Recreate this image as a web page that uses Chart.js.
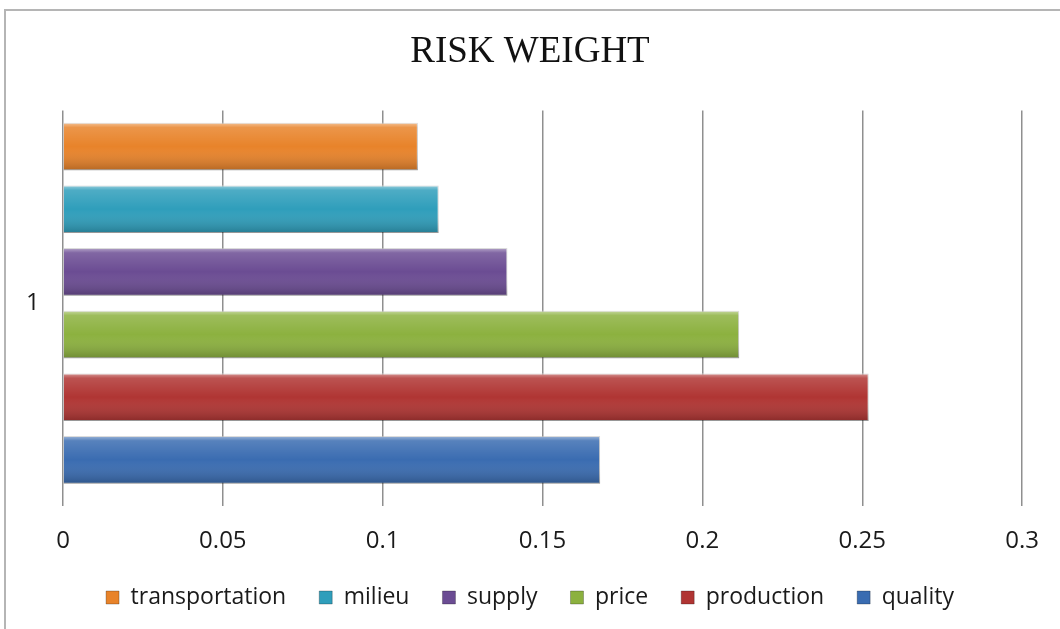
<!DOCTYPE html>
<html>
<head>
<meta charset="utf-8">
<script src="https://cdn.jsdelivr.net/npm/chart.js@4/dist/chart.umd.min.js"></script>
<style>
  html, body { margin: 0; padding: 0; background: #fff; overflow: hidden; }
  #frame {
    position: absolute; left: 4px; top: 9px; width: 1100px; height: 700px;
    border: 2px solid #b5b5b5; box-sizing: border-box;
  }
  #riskChart { position: absolute; left: 0; top: 0; }
</style>
</head>
<body>
<div id="frame"></div>
<canvas id="riskChart" width="1060" height="629"></canvas>
<script>
// Chart data
const categories = ["1"];
const seriesNames = ["transportation", "milieu", "supply", "price", "production", "quality"];
const seriesValues = [0.111, 0.1175, 0.139, 0.2115, 0.252, 0.168];
const seriesColors = ["#e8832a", "#2f9ebb", "#6b4c93", "#8cb13f", "#b03533", "#3a6cb1"];
const xTickLabels = ["0", "0.05", "0.1", "0.15", "0.2", "0.25", "0.3"];

// glossy look on every bar, drawn over the bar rectangles chart.js computed
const bevelPlugin = {
    id: "bevel",
    afterDatasetDraw(chart, args) {
        const ctx = chart.ctx;
        args.meta.data.forEach(bar => {
            const p = bar.getProps(["x", "y", "base", "height"], true);
            const top = p.y - p.height / 2;
            const left = Math.min(p.base, p.x);
            const w = Math.abs(p.x - p.base);
            const g = ctx.createLinearGradient(0, top, 0, top + p.height);
            g.addColorStop(0, "rgba(255,255,255,0.5)");
            g.addColorStop(0.1, "rgba(255,255,255,0.15)");
            g.addColorStop(0.5, "rgba(255,255,255,0)");
            g.addColorStop(1, "rgba(0,0,0,0.22)");
            ctx.save();
            ctx.fillStyle = g;
            ctx.fillRect(left, top, w, p.height);
            ctx.restore();
        });
    }
};

const datasets = seriesNames.map((name, i) => ({
    label: name,
    data: [seriesValues[i]],
    backgroundColor: seriesColors[i],
    borderColor: "rgba(0,0,0,0.25)",
    borderWidth: 1
}));

new Chart(document.getElementById("riskChart").getContext("2d"), {
    type: "bar",
    data: { labels: categories, datasets: datasets },
    plugins: [bevelPlugin],
    options: {
        indexAxis: "y",
        responsive: false,
        animation: false,
        devicePixelRatio: 1,
        categoryPercentage: 0.975,
        barPercentage: 0.76,
        layout: { padding: { top: 10, left: 36, right: 36, bottom: 10 } },
        scales: {
            x: {
                min: 0,
                max: 0.3,
                ticks: {
                    stepSize: 0.05,
                    padding: 21,
                    color: "#1a1a1a",
                    font: { family: "'Open Sans'", size: 24 },
                    callback: (v, i) => xTickLabels[i]
                },
                grid: { color: "#8f8f8f", lineWidth: 1.5, tickLength: 10 },
                border: { display: false },
                afterFit: scale => { scale.height = 57; }
            },
            y: {
                ticks: {
                    // mirrored so the label is not clipped to the narrow axis box
                    mirror: true,
                    padding: -37,
                    color: "#1a1a1a",
                    font: { family: "'Open Sans'", size: 24 }
                },
                grid: { display: false, drawTicks: false },
                border: { display: false },
                afterFit: scale => { scale.width = 27; }
            }
        },
        plugins: {
            title: {
                display: true,
                text: "RISK WEIGHT",
                color: "#111",
                font: { family: "'Liberation Serif'", size: 37, weight: "normal" },
                padding: { top: 20, bottom: 36 }
            },
            legend: {
                position: "bottom",
                labels: {
                    boxWidth: 13,
                    boxHeight: 13,
                    padding: 33,
                    color: "#1a1a1a",
                    font: { family: "'Open Sans'", size: 23 }
                }
            },
            tooltip: { enabled: false }
        }
    }
});
</script>
</body>
</html>
